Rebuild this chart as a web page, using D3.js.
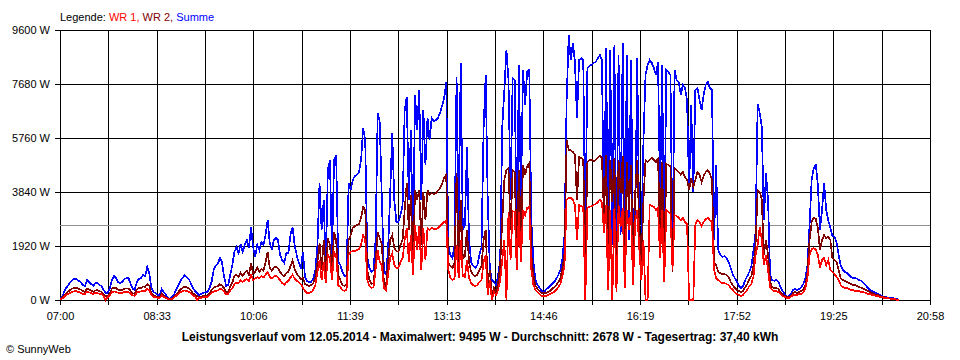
<!DOCTYPE html>
<html><head><meta charset="utf-8">
<script src="https://cdn.jsdelivr.net/npm/d3@7"></script>
<style>body{margin:0;background:#fff}svg{display:block}</style>
</head><body><svg id="c" width="960" height="360"></svg>
<script>
// ---- data ----
const dayMinutes = 838;          // 07:00 .. 20:58
const sampleStepMinutes = 2;     // one sample every 2 minutes from 07:00
const timeLabels = ["07:00","08:33","10:06","11:39","13:13","14:46","16:19","17:52","19:25","20:58"];
const powerTicks = [0,1920,3840,5760,7680,9600];
const averageW = 2678;
const seriesNames = ["WR 1","WR 2","Summe"];

const wr1 = [20,50,110,180,220,260,290,310,310,280,260,220,210,300,270,240,210,250,250,220,200,150,0,100,
170,280,300,290,260,250,260,290,290,290,230,160,150,260,290,300,330,330,400,350,170,110,100,70,
80,160,110,70,30,20,40,90,150,210,270,310,340,320,290,240,170,130,0,70,80,100,110,
110,170,250,300,320,340,400,370,300,200,210,340,430,570,620,600,700,640,700,740,680,900,700,
760,810,780,840,800,900,1000,820,760,830,860,800,700,600,540,630,680,800,900,760,680,630,560,
430,320,250,250,280,360,530,1000,1420,710,1350,600,1600,1490,710,1710,1600,530,460,360,320,360,1600,
1710,1740,1740,1780,1810,1960,2310,2130,710,500,430,460,1070,1780,1350,1240,430,360,890,1490,1670,1240,1140,1140,1350,1490,2130,2560,1350,2310,890,2670,1780,2630,1070,2560,1420,2560,2490,2560,2520,2520,2560,2630,2700,2770,2840,
1070,780,710,750,1960,780,2130,850,820,1420,780,600,530,500,530,640,710,1350,1600,180,710,0,280,180,360,710,1420,2130,0,3130,1420,3160,3130,1070,3130,1350,3200,3020,3270,3340,1070,530,360,280,210,140,140,
140,180,210,250,280,360,460,570,850,1240,3560,3630,
3630,3560,3380,2130,3380,3340,3310,0,3270,3310,3340,3380,3410,3480,3560,3480,2400,3380,360,3200,0,3270,280,3380,2600,3270,430,3200,2500,3130,530,2800,3200,1800,710,2130,0,0,3380,3340,3310,3200,3270,1490,3200,
640,3200,3130,3060,1070,3020,2990,2920,2840,2920,2770,2700,0,0,0,2670,2840,2770,2630,2770,2880,2920,2840,2770,1070,780,
710,640,600,600,570,530,430,360,280,210,180,140,180,280,360,500,570,850,1600,1960,2600,2130,1240,1600,1070,430,360,320,320,280,210,140,110,70,70,110,180,180,180,210,210,280,430,780,1600,1810,1850,1780,1600,1140,1420,1490,1240,1420,1070,1000,920,820,710,530,460,430,430,390,360,360,320,320,320,280,280,250,210,210,180,180,140,140,110,110,70,70,70,40,40,40,0,0];

const wr2 = [20,70,150,250,300,370,410,440,430,400,370,320,290,410,370,330,290,340,350,310,290,200,150,140,
240,400,440,420,370,350,360,400,410,410,330,230,220,380,420,430,480,470,560,500,240,160,130,100,
100,240,160,100,40,20,60,120,200,290,380,430,480,450,410,340,240,180,140,100,120,140,160,
160,240,360,440,470,490,560,520,420,280,300,480,620,860,900,820,960,860,980,1030,900,1300,940,
1000,1150,1000,1100,1050,1350,1700,1150,1050,1150,1200,1120,1000,900,850,950,1000,1200,1400,1100,930,850,750,
780,570,530,500,530,600,820,1350,2030,1070,2130,890,2200,1960,1070,2420,2130,890,710,530,500,570,2130,
2310,2560,2630,2670,2700,2920,3310,3200,1070,710,570,600,1350,2420,2200,1960,640,500,1350,2130,2310,1850,1740,1710,1960,2130,3200,4160,2490,3730,1240,3910,3560,3910,1960,3840,2840,3910,3730,3800,3770,3800,3880,3980,4120,4340,4450,
1320,1210,1140,1320,4520,1350,3560,1490,1560,2490,1350,1000,890,850,890,1070,1210,2130,2490,600,1070,110,430,280,600,1240,2840,4270,4620,4690,2490,4620,4550,1600,4620,2200,4800,4450,4760,4870,1600,890,500,390,320,250,250,
250,280,320,390,460,530,640,780,1140,1670,5690,5330,
5330,5260,5160,3560,5090,5050,4980,1420,4910,4980,4980,4940,4980,5050,5120,5050,3000,5160,1070,4980,3500,5050,530,4980,3800,5120,890,4910,3200,4800,1070,3800,4980,2500,1350,3560,4980,4910,4980,5050,4980,4910,5020,2490,4910,
1070,4840,4800,4760,1000,4690,4620,4550,4450,4550,4380,4270,3910,4340,4020,4270,4550,4450,4200,4410,4550,4620,4480,4270,1350,1240,
1000,960,920,920,890,820,640,530,430,360,320,280,320,460,570,750,850,1240,1960,3910,3840,3560,1600,2130,1600,640,460,430,430,390,280,210,140,110,110,140,250,280,250,280,320,390,530,1000,2130,2770,2920,2880,2560,1780,2130,2310,2200,2240,2130,1490,1420,1350,1070,780,710,680,640,600,570,530,530,500,460,430,390,360,320,280,250,210,180,180,140,110,110,70,70,40,40,40,0,0];

const summe = [40,120,280,430,530,640,710,750,750,680,640,530,500,710,640,570,500,600,600,530,500,360,250,250,
430,710,850,780,640,600,640,750,780,780,570,390,360,640,750,780,890,850,1170,960,430,280,250,180,
180,390,280,180,70,40,110,210,360,530,680,780,890,820,750,600,430,320,250,180,210,250,280,
280,430,640,1070,1210,1280,1490,1350,850,500,530,890,1240,1710,1880,1670,1990,1710,1960,2130,1850,2600,1880,
1530,1960,1780,2060,1960,2310,2840,2060,1780,2130,2200,2130,1600,1420,1320,1670,1670,2310,2600,1960,1600,1320,1140,
1700,820,680,640,640,780,1070,1960,4160,2490,3560,1070,4620,4980,1600,4980,5160,1350,1240,1000,850,850,4160,
3910,4270,4410,4450,4550,4980,6120,5690,1530,1140,1000,1070,2130,6650,6330,3560,1070,890,1780,3730,5940,3560,2770,2770,3020,3380,6760,7220,3560,6050,1780,7290,6050,7470,3560,6760,4800,6470,5690,6470,6360,6400,6470,6650,6900,7180,7750,
1960,1600,1490,1960,7930,2670,8430,2490,2670,5440,2130,1350,1210,1140,1240,1600,1880,6050,8000,3560,1140,710,640,530,890,1420,6150,7470,8890,7820,3560,7890,7820,1780,8360,3560,8180,6930,8110,8180,2840,1350,710,530,430,320,280,
360,430,500,570,640,750,890,1070,1490,2310,7110,9420,
8530,9140,8460,6470,8530,8600,8530,2200,8250,8320,8360,8430,8460,8600,8710,8530,2490,8960,2130,8890,1960,9070,1070,8710,2310,9140,1780,8710,2130,8530,1960,2490,8600,2200,2310,5690,8000,8360,8530,8430,8250,8000,8460,3630,8360,
1490,8180,8110,8000,1710,8180,7820,7750,7290,7650,7540,7110,3910,6930,3840,7470,7540,7110,6760,7290,7650,7750,7540,7470,2130,4800,
1780,1600,1530,1560,1490,1350,1140,920,780,640,500,430,500,710,850,1000,1210,1780,2420,6970,6650,6150,2840,4520,3560,890,710,680,710,640,460,320,210,110,140,210,360,390,360,390,460,570,780,1240,2670,4270,4690,4800,4090,2490,3200,4160,3200,2840,2560,2280,2240,2060,1600,1240,1070,1000,960,890,820,780,780,750,710,680,600,530,430,360,320,280,250,210,180,140,110,110,70,70,70,40,40,0];

// ---- drawing ----
const FONT = "'Liberation Sans', Arial, sans-serif";
const svg = d3.select("#c");
const x = d3.scaleLinear().domain([0, dayMinutes]).range([60, 930]);
const y = d3.scaleLinear().domain([0, 9600]).range([300, 30]);
const gridTimes = d3.range(19).map(k => k * dayMinutes / 18);

// x grid + labels
const gx = svg.append("g").attr("transform", "translate(0,30)")
  .call(d3.axisBottom(x).tickValues(gridTimes).tickSize(275).tickPadding(7)
    .tickFormat((d, k) => k % 2 === 0 ? timeLabels[k / 2] : ""));
gx.select(".domain").remove();
gx.selectAll("line").attr("stroke", "#000").attr("shape-rendering", "crispEdges");
gx.selectAll("text").attr("fill", "#000").style("font-family", FONT).style("font-size", "11px");

// y grid + labels
const gy = svg.append("g").attr("transform", "translate(930,0)")
  .call(d3.axisLeft(y).tickValues(powerTicks).tickSize(875).tickPadding(5)
    .tickFormat(d => d + " W"));
gy.select(".domain").remove();
gy.selectAll("line").attr("stroke", "#000").attr("shape-rendering", "crispEdges");
gy.selectAll("text").attr("fill", "#000").style("font-family", FONT).style("font-size", "11px");

// average line
svg.append("line")
  .attr("x1", x(0)).attr("x2", x(dayMinutes))
  .attr("y1", Math.round(y(averageW)) + 0.5).attr("y2", Math.round(y(averageW)) + 0.5)
  .attr("stroke", "#909090").attr("shape-rendering", "crispEdges");

// series
const line = d3.line().x((d, i) => x(i * sampleStepMinutes)).y(d => y(d));
const series = [
  {name: seriesNames[2], data: summe, color: "#0000ff"},
  {name: seriesNames[1], data: wr2, color: "#800000"},
  {name: seriesNames[0], data: wr1, color: "#ff0000"}
];
svg.append("g").selectAll("path").data(series).join("path")
  .attr("d", s => line(s.data))
  .attr("fill", "none").attr("stroke", s => s.color)
  .attr("stroke-width", 1.7).attr("stroke-linejoin", "miter")
  .attr("shape-rendering", "crispEdges");

// legend
const leg = svg.append("text").attr("x", 60).attr("y", 20.5)
  .style("font-family", FONT).style("font-size", "11px");
leg.append("tspan").attr("fill", "#000").text("Legende: ");
leg.append("tspan").attr("fill", "#ff0000").text(seriesNames[0] + ", ");
leg.append("tspan").attr("fill", "#800000").text(seriesNames[1] + ", ");
leg.append("tspan").attr("fill", "#0000ff").text(seriesNames[2]);

// title
svg.append("text").attr("x", 480).attr("y", 341).attr("text-anchor", "middle")
  .style("font-family", FONT).style("font-size", "12px").style("font-weight", "bold")
  .attr("fill", "#000")
  .text("Leistungsverlauf vom 12.05.2014 - Maximalwert: 9495 W - Durchschnitt: 2678 W - Tagesertrag: 37,40 kWh");

// copyright
svg.append("text").attr("x", 6).attr("y", 353)
  .style("font-family", FONT).style("font-size", "11px").attr("fill", "#000")
  .text("© SunnyWeb");
</script>
</body></html>
